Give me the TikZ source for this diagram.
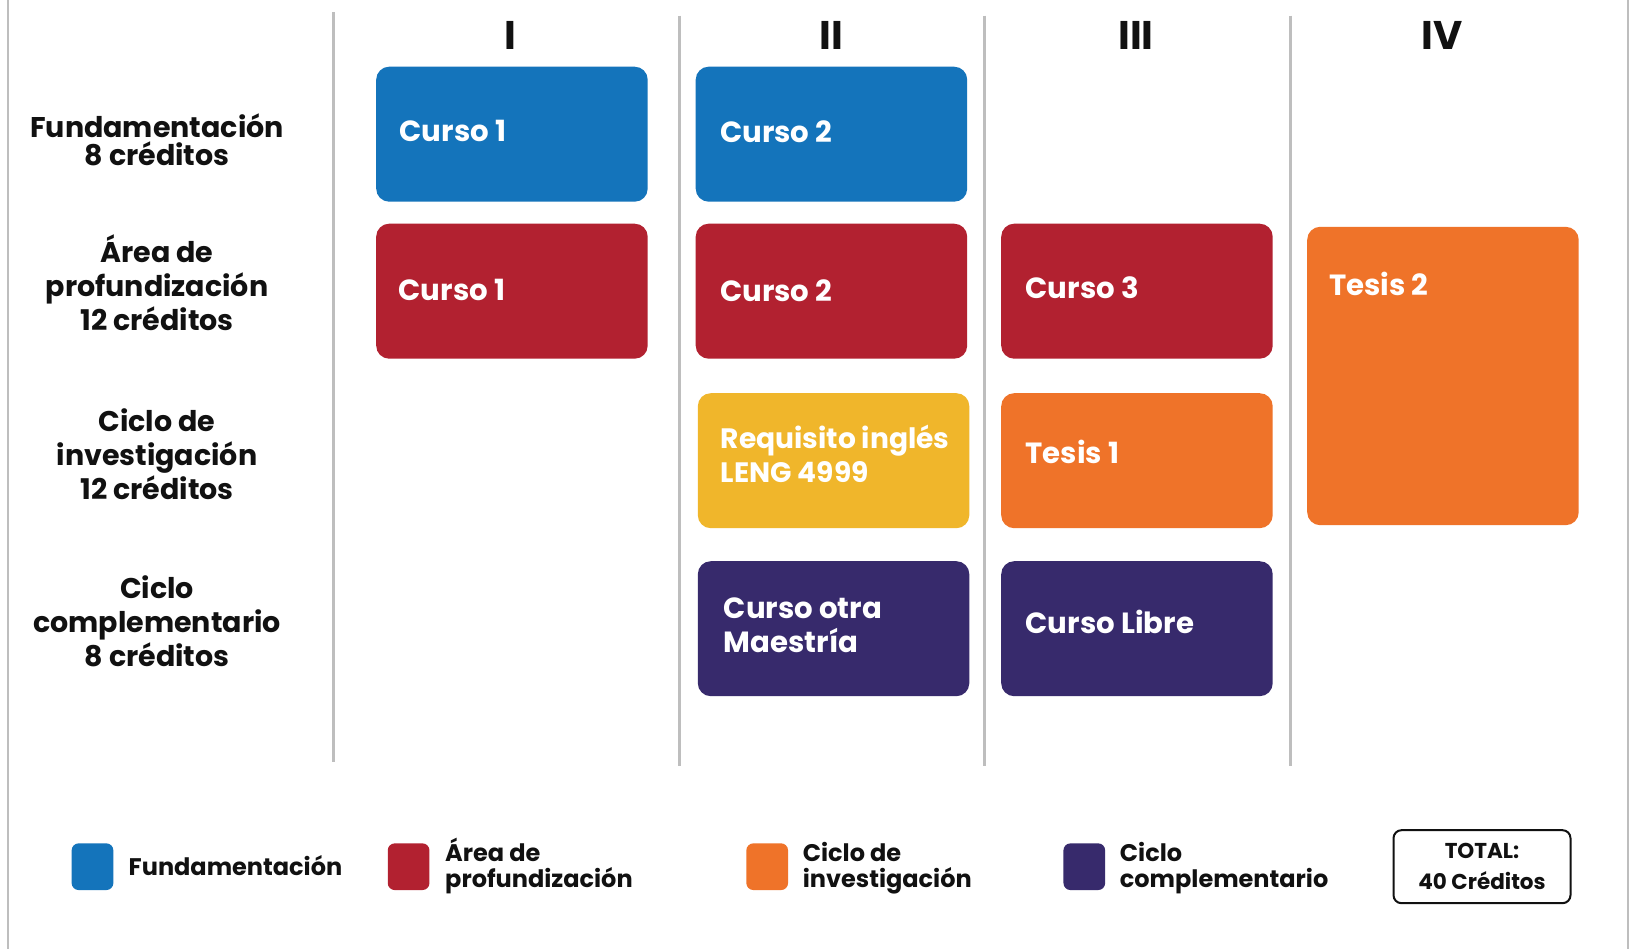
\documentclass[tikz,border=0pt]{standalone}
\usepackage{fontspec}
\setmainfont{Poppins}
\definecolor{blueF}{RGB}{20,116,187}
\definecolor{redA}{RGB}{178,33,48}
\definecolor{orangeC}{RGB}{239,115,41}
\definecolor{yellowR}{RGB}{240,182,43}
\definecolor{purpleC}{RGB}{55,42,108}
\definecolor{grayL}{RGB}{190,190,190}
\definecolor{ink}{RGB}{17,17,17}
\begin{document}
\begin{tikzpicture}[x=1pt,y=-1pt,
  cbox/.style={rounded corners=13pt, anchor=north west, minimum width=271.5pt, minimum height=135pt, inner sep=0pt},
  ctext/.style={anchor=west, inner sep=0pt, align=left, text=white, font=\fontsize{29.2}{33.5}\selectfont\bfseries},
  rowlbl/.style={inner sep=0pt, align=center, text=ink, font=\fontsize{28.5}{34}\selectfont\bfseries},
  hdr/.style={inner sep=0pt, text=ink, font=\fontsize{40}{40}\selectfont\bfseries},
  colline/.style={draw=grayL, line width=3pt},
  frameline/.style={draw=grayL, line width=2pt},
  lsq/.style={rounded corners=7pt, minimum width=41.7pt, minimum height=46.7pt, inner sep=0pt},
  ltxt/.style={anchor=west, inner sep=0pt, align=left, text=ink, font=\fontsize{24}{26}\selectfont\bfseries}]
\useasboundingbox[fill=white] (0,0) rectangle (1630,949);
% frame
\draw[frameline] (8,0) -- (8,949);
\draw[frameline] (1628,0) -- (1628,949);
% column separators
\draw[colline] (333,12.5) -- (333,762);
\draw[colline] (679,15.6) -- (679,766);
\draw[colline] (984,15.6) -- (984,766);
\draw[colline] (1290,15.6) -- (1290,766);
% headers
\node[hdr] (h1) at (510,35) {I};
\node[hdr] (h2) at (831,35) {II};
\node[hdr] (h3) at (1136,35) {III};
\node[hdr] (h4) at (1442,35) {IV};
% row labels
\node[rowlbl, font=\fontsize{28.5}{28.5}\selectfont\bfseries] (rl1) at (157,140) {Fundamentación\\8 créditos};
\node[rowlbl] (rl2) at (157,283) {Área de\\profundización\\12 créditos};
\node[rowlbl] (rl3) at (157,454) {Ciclo de\\investigación\\12 créditos};
\node[rowlbl] (rl4) at (157,621.5) {Ciclo\\complementario\\8 créditos};
% boxes
\node[cbox, fill=blueF] (b11) at (376,66.5) {};
\node[cbox, fill=blueF] (b12) at (695.5,66.5) {};
\node[cbox, fill=redA] (b21) at (376,223.5) {};
\node[cbox, fill=redA] (b22) at (695.5,223.5) {};
\node[cbox, fill=redA] (b23) at (1001,223.5) {};
\node[cbox, fill=yellowR] (b32) at (697.6,393) {};
\node[cbox, fill=orangeC] (b33) at (1001,393) {};
\node[cbox, fill=purpleC] (b42) at (697.6,561) {};
\node[cbox, fill=purpleC] (b43) at (1001,561) {};
\node[cbox, fill=orangeC, minimum height=298.4pt] (b24) at (1307,226.6) {};
% box texts
\node[ctext] (t11) at (399.5,130.5) {Curso 1};
\node[ctext] (t12) at (720,132) {Curso 2};
\node[ctext] (t21) at (398.5,290) {Curso 1};
\node[ctext] (t22) at (720,291) {Curso 2};
\node[ctext] (t23) at (1025.5,288) {Curso 3};
\node[ctext, font=\fontsize{28.1}{33.5}\selectfont\bfseries] (t32) at (720.5,454) {Requisito inglés\\LENG 4999};
\node[ctext] (t33) at (1025.5,452) {Tesis 1};
\node[ctext] (t42) at (723.6,625) {Curso otra\\Maestría};
\node[ctext] (t43) at (1025.5,622) {Curso Libre};
\node[ctext] (t24) at (1329,283.5) {Tesis 2};
% legend
\node[lsq, fill=blueF] (lq1) at (92.5,866.7) {};
\node[ltxt] (lt1) at (128.5,866) {Fundamentación};
\node[lsq, fill=redA] (lq2) at (408.6,866.7) {};
\node[ltxt] (lt2) at (445,866) {Área de\\profundización};
\node[lsq, fill=orangeC] (lq3) at (767.2,866.7) {};
\node[ltxt] (lt3) at (802.6,868) {Ciclo de\\investigación};
\node[lsq, fill=purpleC] (lq4) at (1084.3,866.7) {};
\node[ltxt] (lt4) at (1119.7,868) {Ciclo\\complementario};
\node[draw=ink, line width=2pt, rounded corners=8pt, minimum width=177pt, minimum height=73pt, inner sep=0pt, align=center, text=ink, font=\fontsize{21.5}{31}\selectfont\bfseries] (total) at (1482,866.7) {TOTAL:\\40 Créditos};
\end{tikzpicture}
\end{document}
